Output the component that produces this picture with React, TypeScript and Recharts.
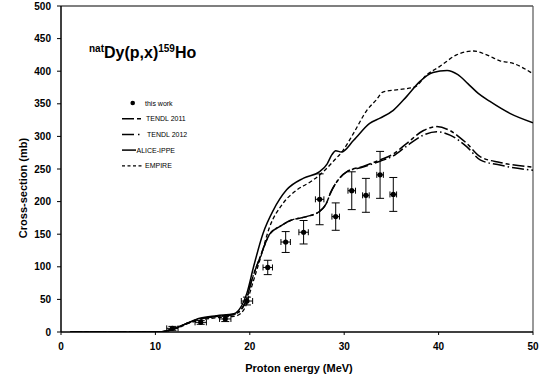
import React from "react";
import {ComposedChart, Line, Scatter, ErrorBar, XAxis, YAxis, ReferenceLine} from "recharts";

// measured points (this work)
const expEnergy = [11.8, 14.8, 17.4, 19.7, 21.9, 23.8, 25.7, 27.4, 29.1, 30.8, 32.3, 33.8, 35.2];
const expValue = [5.6, 14.8, 20, 47.5, 99, 138, 153, 203.5, 177, 216.7, 209.6, 241, 211];
const expErrY = [3, 3, 4, 6, 11, 16, 18, 39, 21, 29, 26, 36, 26];
const expErrX = [0.6, 0.6, 0.6, 0.6, 0.5, 0.5, 0.5, 0.45, 0.4, 0.4, 0.35, 0.35, 0.35];

// model curves: [energy, cross-section]
const tendl2011: number[][] = [
    [1, 0], [10.5, 0], [11.5, 3], [12.5, 8], [13.3, 13], [14.7, 20], [16.5, 24], [18.3, 27], [19, 33], [19.7, 52],
    [20.0, 69], [21.1, 115], [22.1, 150], [23.2, 162], [24.3, 171], [26.0, 177], [27.4, 185], [28.1, 197],
    [28.6, 215], [29.2, 230], [30.3, 246], [32.0, 254], [33.8, 264], [35.2, 273], [36.6, 289], [38.4, 309],
    [39.8, 315], [41.2, 309], [43.0, 289], [44.4, 269], [46.5, 260], [50, 253],
];
const tendl2012: number[][] = [
    [1, 0], [10.5, 0], [11.5, 3], [12.5, 8], [13.3, 13], [14.7, 20], [16.5, 24], [18.3, 27], [19, 33], [19.7, 52],
    [20.0, 69], [21.1, 115], [22.1, 150], [23.2, 162], [24.3, 171], [26.0, 177], [27.4, 185], [28.1, 197],
    [28.6, 215], [29.2, 230], [30.3, 246], [32.0, 253], [33.8, 262], [35.2, 270], [36.6, 285], [38.4, 302],
    [39.8, 307], [41.2, 302], [43.0, 284], [44.4, 264], [46.5, 256], [50, 248],
];
const alice: number[][] = [
    [1, 0], [10.5, 0], [11.5, 3], [12.5, 8], [13.3, 13], [14.7, 21], [16.5, 25], [18.3, 28], [19.0, 37], [19.7, 60],
    [20.4, 100], [21.4, 151], [22.5, 187], [23.9, 218], [25.7, 236], [27.4, 246], [28.2, 258], [28.7, 272],
    [29.1, 278], [29.7, 276], [31.0, 294], [32.7, 320], [33.8, 328], [35.2, 340], [36.6, 361], [38.0, 384],
    [39.4, 398], [40.9, 401], [42.0, 395], [43.1, 381], [44.2, 366], [45.4, 354], [47.6, 335], [50, 321],
];
const empire: number[][] = [
    [1, 0], [10.5, 0], [11.5, 2], [12.5, 7], [13.3, 12], [14.7, 18], [16.5, 22], [18.3, 24], [19, 28], [19.7, 45],
    [20.0, 60], [21.1, 112], [22.1, 161], [23.5, 197], [25.0, 218], [26.4, 230], [27.8, 246], [28.8, 261],
    [29.9, 279], [31.0, 305], [32.4, 340], [33.4, 356], [34.1, 368], [35.9, 372], [37.5, 376], [38.7, 394],
    [40.1, 407], [41.9, 425], [43.7, 431], [45.1, 425], [46.5, 416], [47.9, 412], [50, 396],
];

const xTicks = [0, 10, 20, 30, 40, 50];
const yTicks = [0, 50, 100, 150, 200, 250, 300, 350, 400, 450, 500];

const FONT = "'Liberation Sans', Arial, sans-serif";

const toPoints = (arr: number[][]) => arr.map(([e, v]) => ({e, v}));
const expData = expEnergy.map((e, i) => ({e, v: expValue[i], dx: expErrX[i], dy: expErrY[i]}));

const series = [
    {name: "TENDL 2011", data: tendl2011, dash: "12 3 4 3", w: 1.5},
    {name: "TENDL 2012", data: tendl2012, dash: "12 3 1.5 3", w: 1.5},
    {name: "ALICE-IPPE", data: alice, dash: undefined, w: 1.5},
    {name: "EMPIRE", data: empire, dash: "4 2.5", w: 1.3},
];

const Dot = (props: any) => <circle cx={props.cx} cy={props.cy} r={2.6} fill="#000"/>;

const ChartLegend = () => {
    const y0 = 103, step = 15.7;
    return (
        <g fontFamily={FONT} fontSize={7} fill="#000">
            <circle cx={132.7} cy={y0} r={2.3} fill="#000"/>
            <text x={145} y={y0} dominantBaseline="central">this work</text>
            <line x1={122} x2={141} y1={y0 + step} y2={y0 + step} stroke="#000" strokeWidth={1.5} strokeDasharray="12 3 4 3"/>
            <text x={146} y={y0 + step} dominantBaseline="central">TENDL 2011</text>
            <line x1={122} x2={141} y1={y0 + step * 2} y2={y0 + step * 2} stroke="#000" strokeWidth={1.5} strokeDasharray="12 4 1.5 3"/>
            <text x={147} y={y0 + step * 2} dominantBaseline="central">TENDL 2012</text>
            <line x1={122} x2={136} y1={y0 + step * 3} y2={y0 + step * 3} stroke="#000" strokeWidth={1.5}/>
            <text x={136.5} y={y0 + step * 3} dominantBaseline="central">ALICE-IPPE</text>
            <line x1={122} x2={144} y1={y0 + step * 4} y2={y0 + step * 4} stroke="#000" strokeWidth={1.3} strokeDasharray="3 2.5"/>
            <text x={145} y={y0 + step * 4} dominantBaseline="central">EMPIRE</text>
        </g>
    );
};

const Title = () => (
    <text x={89} y={57.5} fontFamily={FONT} fontWeight="bold" fontSize={16} fill="#000">
        <tspan fontSize={10} dy={-6}>nat</tspan>
        <tspan dy={6}>Dy(p,x)</tspan>
        <tspan fontSize={10} dy={-6}>159</tspan>
        <tspan dy={6}>Ho</tspan>
    </text>
);

export default function App() {
    const tickStyle = {fontFamily: FONT, fontWeight: "bold", fontSize: 10, fill: "#000"};
    return (
        <div style={{position: "absolute", left: 0, top: 0, background: "#fff"}}>
            <ComposedChart width={539} height={381} margin={{top: 6, right: 6, bottom: 0, left: 0}}>
                <XAxis type="number" dataKey="e" domain={[0, 50]} ticks={xTicks} allowDataOverflow
                       height={49} tickSize={3} tickMargin={8} tick={tickStyle}
                       axisLine={{stroke: "#000", strokeWidth: 1.5}} tickLine={{stroke: "#000"}}
                       label={() => (
                           <text x={299} y={372} textAnchor="middle" fontFamily={FONT} fontWeight="bold"
                                 fontSize={11} fill="#000">Proton energy (MeV)</text>
                       )}/>
                <YAxis type="number" domain={[0, 500]} ticks={yTicks} allowDataOverflow
                       width={61} tickSize={4} tickMargin={6} tick={tickStyle}
                       axisLine={{stroke: "#000", strokeWidth: 1.5}} tickLine={{stroke: "#000"}}
                       label={() => (
                           <text x={27} y={188} transform="rotate(-90 27 188)" textAnchor="middle"
                                 fontFamily={FONT} fontWeight="bold" fontSize={11} fill="#000">Cross-section (mb)</text>
                       )}/>
                <ReferenceLine y={500} stroke="#000" strokeWidth={1.2}/>
                <ReferenceLine x={50} stroke="#555" strokeWidth={1.2}/>
                {series.map(s => (
                    <Line key={s.name} data={toPoints(s.data)} dataKey="v" type="monotone" stroke="#000"
                          strokeWidth={s.w} strokeDasharray={s.dash} dot={false} activeDot={false}
                          isAnimationActive={false}/>
                ))}
                <Scatter data={expData} dataKey="v" shape={Dot} isAnimationActive={false}>
                    <ErrorBar dataKey="dy" direction="y" width={4} stroke="#000" strokeWidth={1}/>
                    <ErrorBar dataKey="dx" direction="x" width={3} stroke="#000" strokeWidth={1}/>
                </Scatter>
                <Title/>
                <ChartLegend/>
            </ComposedChart>
        </div>
    );
}
